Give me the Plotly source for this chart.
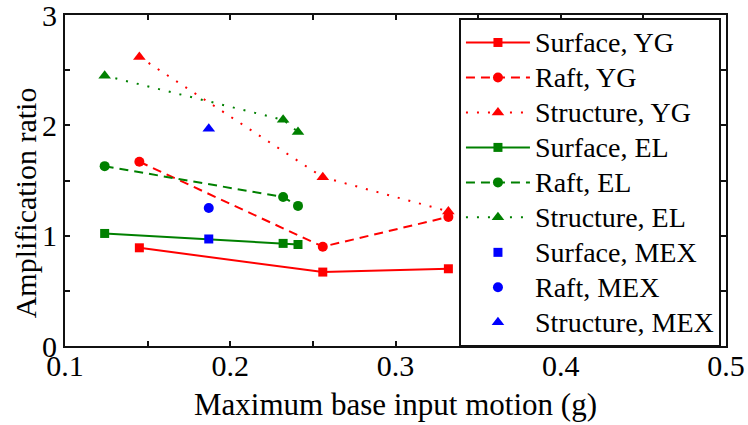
import plotly.graph_objects as go

# Maximum base input motion (g) for each shaking series
x_yg = [0.145, 0.256, 0.332]
x_el = [0.124, 0.232, 0.241]
x_mex = [0.187]

# Amplification ratios
surface_yg = [0.89, 0.67, 0.70]
raft_yg = [1.67, 0.90, 1.17]
structure_yg = [2.62, 1.53, 1.22]
surface_el = [1.02, 0.93, 0.92]
raft_el = [1.63, 1.35, 1.27]
structure_el = [2.45, 2.05, 1.94]
surface_mex = [0.97]
raft_mex = [1.25]
structure_mex = [1.97]

# Axis ticks
x_ticks = [0.1, 0.2, 0.3, 0.4, 0.5]
y_ticks = [0, 1, 2, 3]

RED, GREEN, BLUE = "#ff0000", "#008000", "#0000ff"
FONT = "Liberation Serif"
INK = "#111111"

DASH = "9px,6px"
DOT = "2px,9px"

series = [
    ("Surface, YG", x_yg, surface_yg, RED, "square", 9, "solid", "lines+markers"),
    ("Raft, YG", x_yg, raft_yg, RED, "circle", 10, DASH, "lines+markers"),
    ("Structure, YG", x_yg, structure_yg, RED, "triangle-up", 11, DOT, "lines+markers"),
    ("Surface, EL", x_el, surface_el, GREEN, "square", 9, "solid", "lines+markers"),
    ("Raft, EL", x_el, raft_el, GREEN, "circle", 10, DASH, "lines+markers"),
    ("Structure, EL", x_el, structure_el, GREEN, "triangle-up", 11, DOT, "lines+markers"),
    ("Surface, MEX", x_mex, surface_mex, BLUE, "square", 9, "solid", "markers"),
    ("Raft, MEX", x_mex, raft_mex, BLUE, "circle", 10, "solid", "markers"),
    ("Structure, MEX", x_mex, structure_mex, BLUE, "triangle-up", 11, "solid", "markers"),
]

fig = go.Figure()
for name, xs, ys, color, symbol, size, dash, mode in series:
    fig.add_trace(go.Scatter(
        x=xs, y=ys, mode=mode,
        # legend rows keep a compact pitch while the label text stays large
        name=f'<span style="font-size:28px">{name}</span>',
        line=dict(color=color, width=2, dash=dash),
        marker=dict(color=color, symbol=symbol, size=size, line=dict(width=0)),
    ))

axis_common = dict(
    showline=True, linewidth=2, linecolor=INK, mirror="allticks",
    ticks="inside", ticklen=5, tickwidth=1.5, tickcolor=INK,
    showgrid=False, zeroline=False, automargin=False,
    ticklabeloverflow="allow",
    tickfont=dict(family=FONT, size=30, color="black"),
)

fig.update_xaxes(
    range=[0.1, 0.5], tickmode="array", tickvals=x_ticks,
    ticktext=[f"{v:.1f}" for v in x_ticks], ticklabelstandoff=-8,
    minor=dict(dtick=0.05, ticks="inside", ticklen=5, tickwidth=1.5, tickcolor=INK),
    title=dict(text="Maximum base input motion (g)", font=dict(family=FONT, size=31, color="black"), standoff=12),
    **axis_common,
)
fig.update_yaxes(
    range=[0, 3], tickmode="array", tickvals=y_ticks,
    ticktext=[str(v) for v in y_ticks],
    minor=dict(dtick=0.5, ticks="inside", ticklen=5, tickwidth=1.5, tickcolor=INK),
    **axis_common,
)

# y-axis title, set a little below the vertical middle of the frame
fig.add_annotation(
    text="Amplification ratio", textangle=-90,
    xref="paper", yref="paper", x=-0.060, y=0.432,
    xanchor="center", yanchor="middle", showarrow=False,
    font=dict(family=FONT, size=30, color="black"),
)

fig.update_layout(
    width=748, height=425,
    margin=dict(l=65, r=22, t=15, b=79),
    paper_bgcolor="white", plot_bgcolor="white",
    font=dict(family=FONT, color="black"),
    showlegend=True,
    legend=dict(
        x=0.596, y=0.991, xanchor="left", yanchor="top",
        bgcolor="white", bordercolor=INK, borderwidth=2,
        font=dict(family=FONT, size=24.6, color="black"),
        itemwidth=64, tracegroupgap=0, maxheight=400,
    ),
)

fig.write_html("out.html")
